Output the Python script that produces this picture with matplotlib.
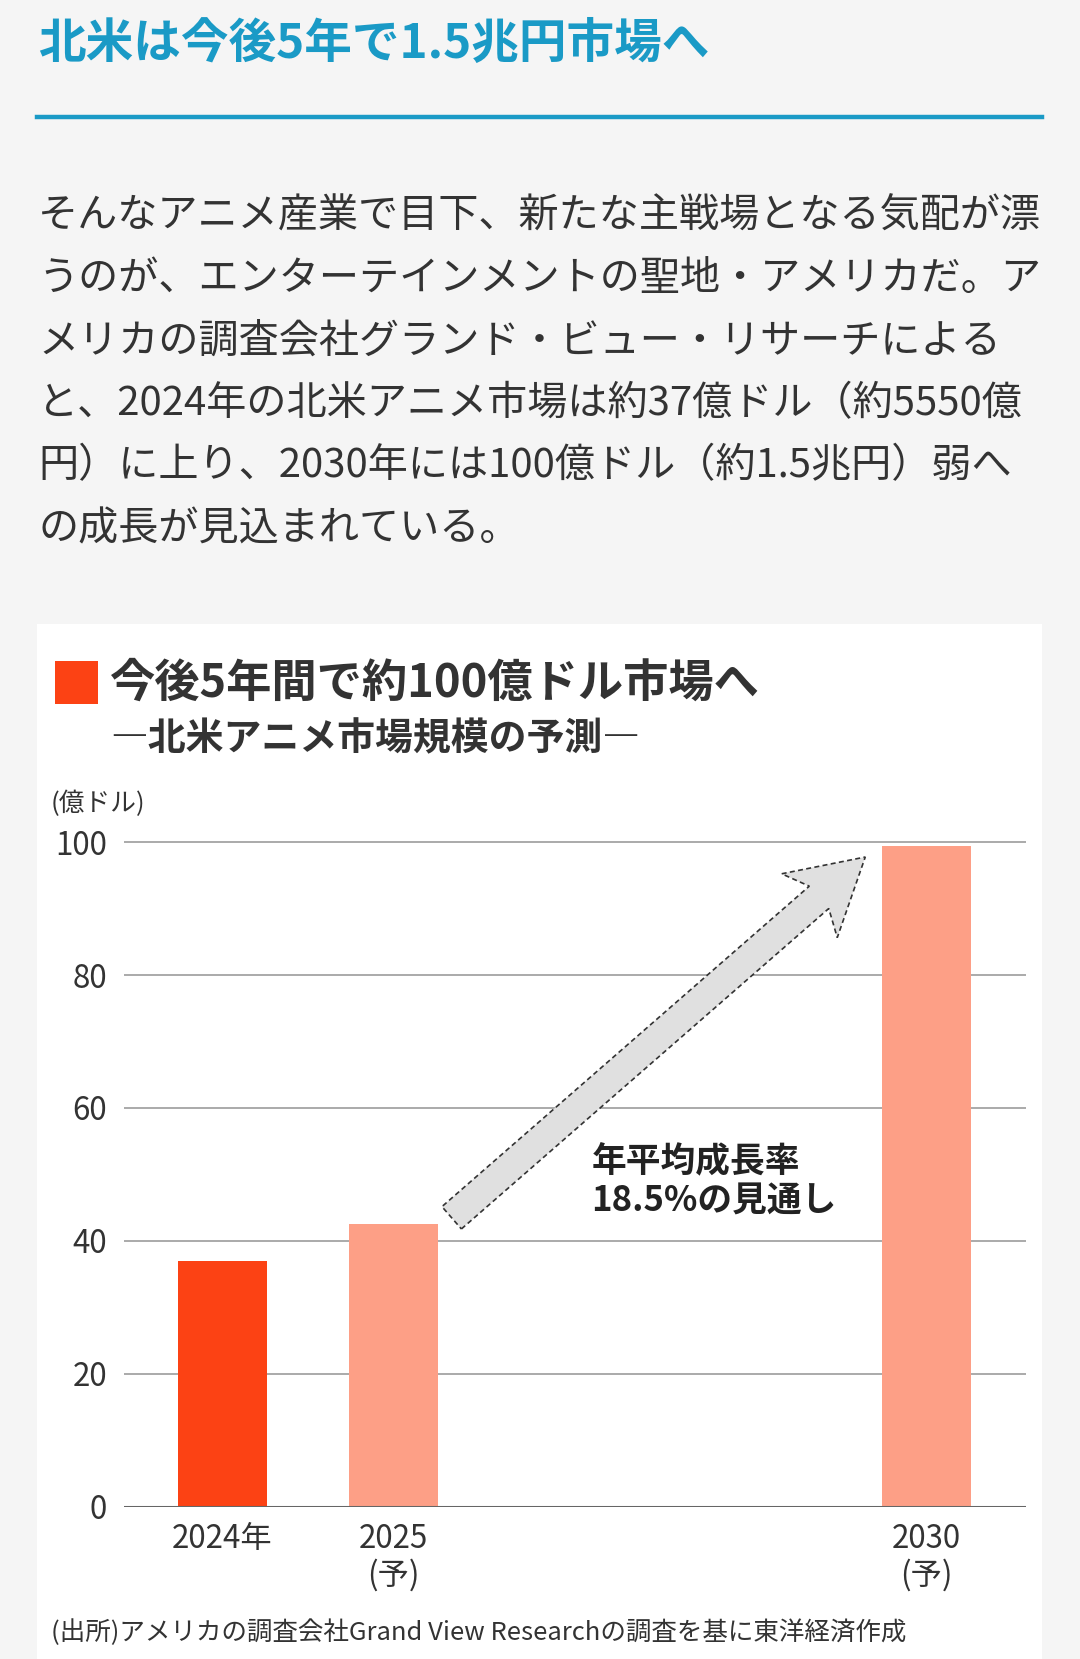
import matplotlib
matplotlib.use("Agg")
import matplotlib.pyplot as plt
from matplotlib.patches import Rectangle, Polygon
import numpy as np

plt.rcParams['font.family'] = ['Noto Sans CJK JP', 'DejaVu Sans']

# ---- data ----
categories = ["2024年", "2025\n(予)", "2030\n(予)"]
values = [37, 42.5, 99.4]
bar_colors = ["#fc4214", "#fd9f86", "#fd9f86"]
yticks = [0, 20, 40, 60, 80, 100]

page_title = "北米は今後5年で1.5兆円市場へ"
body_lines = [
    "そんなアニメ産業で目下、新たな主戦場となる気配が漂",
    "うのが、エンターテインメントの聖地・アメリカだ。ア",
    "メリカの調査会社グランド・ビュー・リサーチによる",
    "と、2024年の北米アニメ市場は約37億ドル（約5550億",
    "円）に上り、2030年には100億ドル（約1.5兆円）弱へ",
    "の成長が見込まれている。",
]
chart_title = "今後5年間で約100億ドル市場へ"
chart_subtitle = "―北米アニメ市場規模の予測―"
unit_label = "(億ドル)"
annotation = "年平均成長率\n18.5%の見通し"
source = "(出所)アメリカの調査会社Grand View Researchの調査を基に東洋経済作成"

# ---- layout helpers (reference pixel space 1021x1568) ----
W, H = 1021.0, 1568.0
def fx(x): return x / W
def fy(y): return 1 - y / H

fig = plt.figure(figsize=(10.8, 16.59), dpi=100)
fig.patch.set_facecolor("#f5f5f5")

# white card
fig.patches.append(Rectangle((fx(35), fy(1568)), fx(985) - fx(35), fy(590) - fy(1568),
                             transform=fig.transFigure, facecolor="white", edgecolor="none",
                             zorder=-5))

# page title + rule
teal = "#1a9ac6"
fig.text(fx(36), fy(42), page_title, color=teal, fontsize=34.3, fontweight="bold",
         va="center", ha="left")
fig.add_artist(plt.Line2D([fx(35), fx(985)], [fy(111), fy(111)], color=teal, lw=3.2,
                          transform=fig.transFigure))

# body text
body_y = [205, 264, 323, 382, 441, 500]
for line, y in zip(body_lines, body_y):
    fig.text(fx(36), fy(y), line, color="#333333", fontsize=28.9, va="center", ha="left")

# chart title
fig.patches.append(Rectangle((fx(52), fy(665)), fx(93) - fx(52), fy(625) - fy(665),
                             transform=fig.transFigure, facecolor="#fc4214", edgecolor="none"))
fig.text(fx(104), fy(646), chart_title, color="#333333", fontsize=32.6, fontweight="bold",
         va="center", ha="left")
fig.text(fx(104), fy(698), chart_subtitle, color="#333333", fontsize=27.3, fontweight="bold",
         va="center", ha="left")
fig.text(fx(48), fy(760), unit_label, color="#333333", fontsize=18.5, va="center", ha="left")

# axes
px_per_unit = (1424 - 796) / 100.0
ytop = 101
ax_top = 1424 - ytop * px_per_unit
ax = fig.add_axes([fx(117), fy(1424), fx(970) - fx(117), fy(ax_top) - fy(1424)])
ax.set_facecolor("none")
ax.set_zorder(1)

# x positions for categorical bars (uneven spacing as in reference)
xpos = np.array([0.0, 1.0, 4.11])
ppx = 162.0  # ref pixels per x unit
ax.set_xlim((117 - 210) / ppx, (970 - 210) / ppx)
ax.set_ylim(0, ytop)

for yv in yticks[1:]:
    ax.axhline(yv, color="#aaaaaa", lw=1.4, zorder=1)
ax.axhline(0, color="#666666", lw=2.2, zorder=3)

ax.bar(xpos, values, width=84 / ppx, color=bar_colors, zorder=2)

for s in ax.spines.values():
    s.set_visible(False)
ax.set_yticks(yticks)
ax.set_yticklabels([str(t) for t in yticks], fontsize=22.5, color="#333333")
ax.tick_params(axis="y", length=0, pad=12)
ax.set_xticks(xpos)
ax.set_xticklabels(categories, fontsize=22.5, color="#333333", linespacing=1.15, va="top")
ax.tick_params(axis="x", length=0, pad=12)

# arrow (reference pixel geometry -> figure fraction)
T = np.array([427.0, 1151.0])
P = np.array([818.0, 810.0])
d = P - T
u = d / np.linalg.norm(d)
n = np.array([-u[1], u[0]])
hw = 14.0      # shaft half width
head_hw = 40.0
head_len = 70.0
notch = 12.0
base = P - u * head_len
junction = base + u * notch
pts = [
    T + n * hw,
    junction + n * hw,
    base + n * head_hw,
    P,
    base - n * head_hw,
    junction - n * hw,
    T - n * hw,
]
pts_fig = [(fx(p[0]), fy(p[1])) for p in pts]
arrow = Polygon(pts_fig, closed=True, transform=fig.transFigure, facecolor="#e0e0e0",
                edgecolor="#333333", lw=1.2, linestyle=(0, (3, 2)), zorder=5)
fig.patches.append(arrow)

fig.text(fx(559), fy(1117), annotation, color="#222222", fontsize=25, fontweight="bold",
         va="center", ha="left", linespacing=1.15, zorder=6)

# source
fig.text(fx(48), fy(1543), source, color="#333333", fontsize=18.4, va="center", ha="left")

fig.savefig("out.png", dpi=100, facecolor=fig.get_facecolor())
